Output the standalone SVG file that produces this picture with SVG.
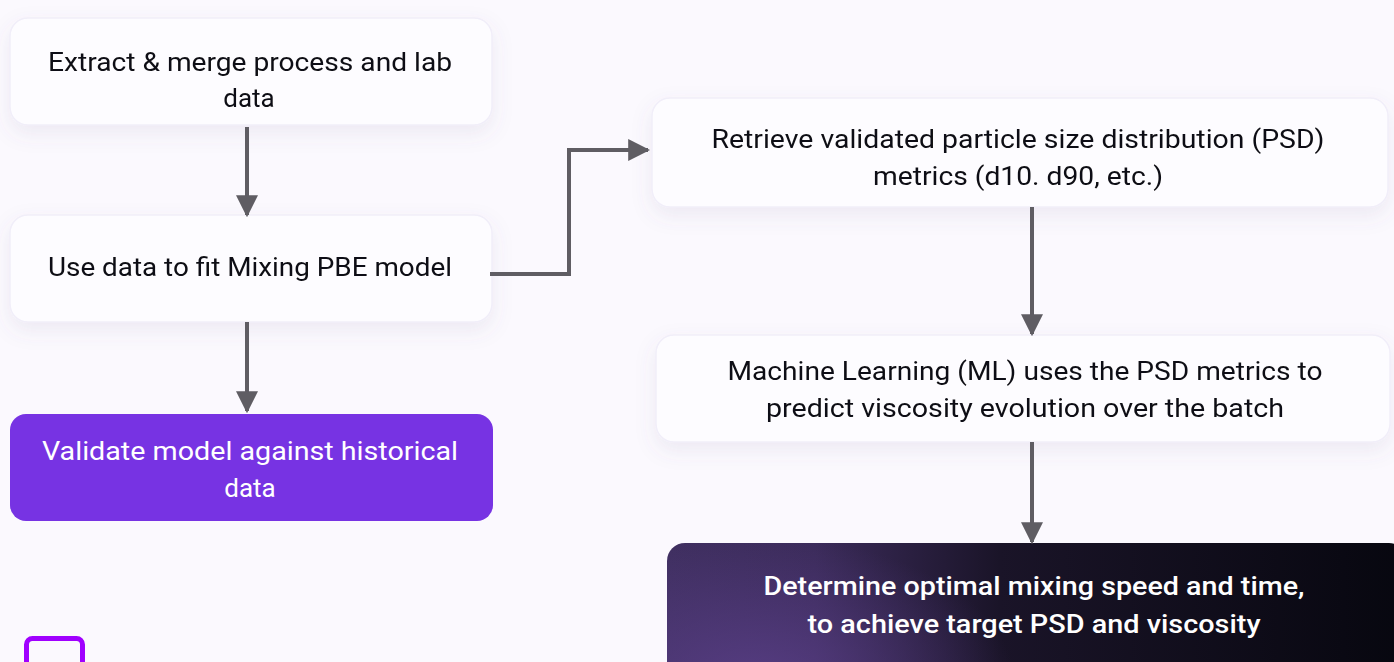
<svg xmlns="http://www.w3.org/2000/svg" width="1394" height="662" viewBox="0 0 1394 662">
  <defs>
    <filter id="soft" x="-10%" y="-30%" width="120%" height="170%">
      <feDropShadow dx="0" dy="8" stdDeviation="10" flood-color="#6b5a8a" flood-opacity="0.10"/>
    </filter>
    <marker id="head" viewBox="0 0 10 10" refX="9" refY="5" markerWidth="5.5" markerHeight="5.5" orient="auto" markerUnits="strokeWidth">
      <path d="M0,0 L10,5 L0,10 Z" fill="#5f5d63"/>
    </marker>
    <linearGradient id="darkFill" x1="0" y1="0" x2="1" y2="0">
      <stop offset="0" stop-color="#3f2f60"/>
      <stop offset="0.2" stop-color="#3b2b5a"/>
      <stop offset="0.45" stop-color="#1a1428"/>
      <stop offset="1" stop-color="#07070f"/>
    </linearGradient>
    <radialGradient id="glow" cx="0.12" cy="1" r="0.35" gradientTransform="matrix(1 0 0 3 0 -2)">
      <stop offset="0" stop-color="#5a3f88" stop-opacity="0.85"/>
      <stop offset="1" stop-color="#5a3f88" stop-opacity="0"/>
    </radialGradient>
    <style>
      .card { fill: #fdfcff; stroke: #f1eef9; stroke-width: 1.5; }
      .label { font-family: Roboto, "Liberation Sans", sans-serif; font-size: 26px; fill: #111114; text-anchor: middle; }
      .light { fill: #ffffff; }
      .strong { font-weight: 500; }
      .wire { fill: none; stroke: #5f5d63; stroke-width: 4; marker-end: url(#head); }
    </style>
  </defs>

  <rect width="1394" height="662" fill="#fbf9fe"/>

  <g id="extract" filter="url(#soft)">
    <rect class="card" x="10" y="18" width="482" height="107" rx="18"/>
    <text class="label" x="250" y="71" textLength="404" lengthAdjust="spacingAndGlyphs">Extract &amp; merge process and lab</text>
    <text class="label" x="249" y="107">data</text>
  </g>

  <g id="fit-model" filter="url(#soft)">
    <rect class="card" x="10" y="215" width="482" height="107" rx="18"/>
    <text class="label" x="250" y="276" textLength="404" lengthAdjust="spacingAndGlyphs">Use data to fit Mixing PBE model</text>
  </g>

  <g id="validate">
    <rect x="10" y="414" width="483" height="107" rx="16" fill="#7733e3"/>
    <text class="label light" x="250" y="460" textLength="416" lengthAdjust="spacingAndGlyphs">Validate model against historical</text>
    <text class="label light" x="250" y="497">data</text>
  </g>

  <g id="retrieve-psd" filter="url(#soft)">
    <rect class="card" x="652" y="98" width="736" height="109" rx="18"/>
    <text class="label" x="1018" y="148" textLength="613" lengthAdjust="spacingAndGlyphs">Retrieve validated particle size distribution (PSD)</text>
    <text class="label" x="1018" y="185" textLength="290" lengthAdjust="spacingAndGlyphs">metrics (d10. d90, etc.)</text>
  </g>

  <g id="ml-predict" filter="url(#soft)">
    <rect class="card" x="656" y="335" width="734" height="107" rx="18"/>
    <text class="label" x="1025" y="380" textLength="595" lengthAdjust="spacingAndGlyphs">Machine Learning (ML) uses the PSD metrics to</text>
    <text class="label" x="1025" y="417" textLength="518" lengthAdjust="spacingAndGlyphs">predict viscosity evolution over the batch</text>
  </g>

  <g id="optimise">
    <rect x="667" y="543" width="740" height="140" rx="18" fill="url(#darkFill)"/>
    <rect x="667" y="543" width="740" height="140" rx="18" fill="url(#glow)"/>
    <text class="label light strong" x="1034" y="595" textLength="541" lengthAdjust="spacingAndGlyphs">Determine optimal mixing speed and time,</text>
    <text class="label light strong" x="1034" y="633" textLength="453" lengthAdjust="spacingAndGlyphs">to achieve target PSD and viscosity</text>
  </g>

  <g id="marker-square">
    <rect x="26.5" y="638.5" width="56" height="40" rx="6" fill="none" stroke="#a000ff" stroke-width="5"/>
  </g>

  <g id="connectors">
    <path class="wire" d="M247,127 V215"/>
    <path class="wire" d="M247,322 V411"/>
    <path class="wire" d="M490,274 H569 V150 H648"/>
    <path class="wire" d="M1032,207 V334"/>
    <path class="wire" d="M1032,442 V542"/>
  </g>
</svg>
